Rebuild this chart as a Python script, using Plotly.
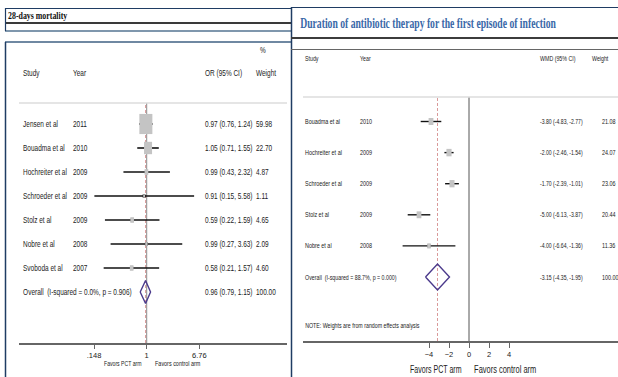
import json
import plotly.graph_objects as go

# ---------------- data: 28-day mortality (odds ratios) ----------------
mort_studies = ["Jensen et al", "Bouadma et al", "Hochreiter et al", "Schroeder et al",
                "Stolz et al", "Nobre et al", "Svoboda et al"]
mort_years = ["2011", "2010", "2009", "2009", "2009", "2008", "2007"]
mort_or = [0.97, 1.05, 0.99, 0.91, 0.59, 0.99, 0.58]
mort_lo = [0.76, 0.71, 0.43, 0.15, 0.22, 0.27, 0.21]
mort_hi = [1.24, 1.55, 2.32, 5.58, 1.59, 3.63, 1.57]
mort_weight = [59.98, 22.70, 4.87, 1.11, 4.65, 2.09, 4.60]
mort_overall = [0.96, 0.79, 1.15, 100.00]
mort_het = ["0.0%", "0.906"]
mort_ticks = [0.148, 1, 6.76]
mort_ticktext = [".148", "1", "6.76"]

# ---------------- data: antibiotic duration (WMD, days) ----------------
dur_studies = ["Bouadma et al", "Hochreiter et al", "Schroeder et al", "Stolz et al", "Nobre et al"]
dur_years = ["2010", "2009", "2009", "2009", "2008"]
dur_wmd = [-3.80, -2.00, -1.70, -5.00, -4.00]
dur_lo = [-4.83, -2.46, -2.39, -6.13, -6.64]
dur_hi = [-2.77, -1.54, -1.01, -3.87, -1.36]
dur_weight = [21.08, 24.07, 23.06, 20.44, 11.36]
dur_overall = [-3.15, -4.35, -1.95, 100.00]
dur_het = ["88.7%", "0.000"]
dur_ticks = [-4, -2, 0, 2, 4]

# ---------------- page geometry ----------------
W, H = 618, 377
def px(x):
    return x / W
def py(y):
    return 1 - y / H

SANS = "Liberation Sans, Arial, sans-serif"
SERIF = "Liberation Serif, Times New Roman, serif"
TXT = "#222222"
NAVY = "#1f3c63"
DIAMOND = "#4b3a8c"
SQUARE = "#c4c4c4"
REF_RED = "#d99a9a"

# left forest plot frame (pixels)
L_X0, L_X1, L_ONE, L_DEC = 19, 287, 146.7, 63.5
L_TOP, L_BOT, L_ROW0, L_STEP = 103, 343, 124, 24.0
# right forest plot frame (pixels)
R_X0, R_X1, R_ZERO, R_UNIT = 303, 618, 469, 10.0
R_TOP, R_BOT, R_ROW0, R_STEP = 97, 341, 121.5, 31.1

fig = go.Figure()
shapes = []
ann = []
squeeze = []   # horizontal condensing applied to each annotation (scale, origin)

def text(x, y, s, size, yref="paper", xanchor="left", color=TXT, family=SANS,
         bold=False, scale=0.72):
    ann.append(dict(x=x, y=y, xref="paper", yref=yref, text=("<b>%s</b>" % s) if bold else s,
                    showarrow=False, xanchor=xanchor, yanchor="middle",
                    font=dict(size=size, color=color, family=family)))
    squeeze.append([scale, xanchor])

# ---------- left panel: 28-days mortality ----------
n_m = len(mort_studies)
ci_x, ci_y = [], []
for i in range(n_m):
    ci_x += [mort_lo[i], mort_hi[i], None]
    ci_y += [i, i, None]
for i in range(n_m):
    side = 1.68 * mort_weight[i] ** 0.5
    hw = side / 2 / L_DEC
    hh = 1.55 * side / 2 / L_STEP
    shapes.append(dict(type="rect", xref="x", yref="y", layer="above",
                       x0=mort_or[i] / 10 ** hw, x1=mort_or[i] * 10 ** hw,
                       y0=i - hh, y1=i + hh, fillcolor=SQUARE, line=dict(width=0)))
fig.add_trace(go.Scatter(x=ci_x, y=ci_y, mode="lines", line=dict(color="#111", width=1.6),
                         xaxis="x", yaxis="y", hoverinfo="skip", showlegend=False))
fig.add_trace(go.Scatter(x=mort_or, y=list(range(n_m)), mode="markers",
                         marker=dict(symbol="square", size=3, color="#111"),
                         xaxis="x", yaxis="y", showlegend=False))
est, lo, hi, _ = mort_overall
h = 0.48
fig.add_trace(go.Scatter(x=[lo, est, hi, est, lo], y=[n_m, n_m - h, n_m, n_m + h, n_m],
                         mode="lines", line=dict(color=DIAMOND, width=1.4),
                         xaxis="x", yaxis="y", showlegend=False))
shapes.append(dict(type="line", xref="x", yref="y domain", x0=1, x1=1, y0=0, y1=1,
                   line=dict(color="#8a8a8a", width=1), layer="below"))
shapes.append(dict(type="line", xref="x", yref="y domain", x0=est, x1=est, y0=0, y1=1,
                   line=dict(color=REF_RED, width=1, dash="3px,2px"), layer="below"))
shapes.append(dict(type="line", xref="x domain", yref="y domain", x0=0, x1=1, y0=1, y1=1,
                   line=dict(color="#dcdcdc", width=1.5)))

for i in range(n_m):
    text(px(21), i, mort_studies[i], 9, yref="y")
    text(px(71), i, mort_years[i], 9, yref="y")
    text(px(203), i, "%.2f (%.2f, %.2f)" % (mort_or[i], mort_lo[i], mort_hi[i]), 9, yref="y")
    text(px(254), i, "%.2f" % mort_weight[i], 9, yref="y")
text(px(21), n_m, "Overall&nbsp;&nbsp;(I-squared = %s, p = %s)" % tuple(mort_het), 9, yref="y")
text(px(203), n_m, "%.2f (%.2f, %.2f)" % tuple(mort_overall[:3]), 9, yref="y")
text(px(254), n_m, "%.2f" % mort_overall[3], 9, yref="y")
text(px(258), py(50), "%", 9)
for x, s in [(21, "Study"), (71, "Year"), (203, "OR (95% CI)"), (254, "Weight")]:
    text(px(x), py(73), s, 9)
text(px(102), py(363), "Favors PCT arm", 8, scale=0.64)
text(px(153), py(363), "Favors control arm", 8, scale=0.68)

# ---------- right panel: duration of antibiotic therapy ----------
n_d = len(dur_studies)
ci_x, ci_y = [], []
for i in range(n_d):
    ci_x += [dur_lo[i], dur_hi[i], None]
    ci_y += [i, i, None]
for i in range(n_d):
    side = 1.05 * dur_weight[i] ** 0.5
    hw = side / 2 / R_UNIT
    hh = 1.45 * side / 2 / R_STEP
    shapes.append(dict(type="rect", xref="x2", yref="y2", layer="above",
                       x0=dur_wmd[i] - hw, x1=dur_wmd[i] + hw,
                       y0=i - hh, y1=i + hh, fillcolor=SQUARE, line=dict(width=0)))
fig.add_trace(go.Scatter(x=ci_x, y=ci_y, mode="lines", line=dict(color="#111", width=1.4),
                         xaxis="x2", yaxis="y2", hoverinfo="skip", showlegend=False))
fig.add_trace(go.Scatter(x=dur_wmd, y=list(range(n_d)), mode="markers",
                         marker=dict(symbol="square", size=3, color="#111"),
                         xaxis="x2", yaxis="y2", showlegend=False))
est, lo, hi, _ = dur_overall
h = 0.42
fig.add_trace(go.Scatter(x=[lo, est, hi, est, lo], y=[n_d, n_d - h, n_d, n_d + h, n_d],
                         mode="lines", line=dict(color=DIAMOND, width=1.4),
                         xaxis="x2", yaxis="y2", showlegend=False))
shapes.append(dict(type="line", xref="x2", yref="y2 domain", x0=0, x1=0, y0=0, y1=1,
                   line=dict(color="#555", width=1), layer="below"))
shapes.append(dict(type="line", xref="x2", yref="y2 domain", x0=est, x1=est, y0=0, y1=1,
                   line=dict(color=REF_RED, width=1, dash="3px,2px"), layer="below"))
shapes.append(dict(type="line", xref="x2 domain", yref="y2 domain", x0=0, x1=1, y0=1, y1=1,
                   line=dict(color="#dcdcdc", width=1.5)))

for i in range(n_d):
    text(px(303), i, dur_studies[i], 8, yref="y2", scale=0.68)
    text(px(358), i, dur_years[i], 8, yref="y2", scale=0.68)
    text(px(538), i, "%.2f (%.2f, %.2f)" % (dur_wmd[i], dur_lo[i], dur_hi[i]), 8, yref="y2",
         scale=0.64)
    text(px(600), i, "%.2f" % dur_weight[i], 8, yref="y2", scale=0.68)
text(px(303), n_d, "Overall&nbsp;&nbsp;(I-squared = %s, p = %s)" % tuple(dur_het), 8,
     yref="y2", scale=0.66)
text(px(538), n_d, "%.2f (%.2f, %.2f)" % tuple(dur_overall[:3]), 8, yref="y2", scale=0.64)
text(px(600), n_d, "%.2f" % dur_overall[3], 8, yref="y2", scale=0.68)
text(px(303), py(325), "NOTE: Weights are from random effects analysis", 8, scale=0.66)
for x, s in [(303, "Study"), (358, "Year"), (538, "WMD (95% CI)"), (590, "Weight")]:
    text(px(x), py(58), s, 8, scale=0.66)
text(px(408), py(369), "Favors PCT arm", 11, scale=0.64)
text(px(472), py(369), "Favors control arm", 11, scale=0.68)

# ---------- panel frames and titles ----------
def hline(x0, x1, y, color, width):
    shapes.append(dict(type="line", xref="paper", yref="paper", x0=px(x0), x1=px(x1),
                       y0=py(y), y1=py(y), line=dict(color=color, width=width)))
def vline(x, y0, y1, color, width):
    shapes.append(dict(type="line", xref="paper", yref="paper", x0=px(x), x1=px(x),
                       y0=py(y0), y1=py(y1), line=dict(color=color, width=width)))

hline(5, 291, 8.5, NAVY, 1.2)
hline(5, 291, 23, "#3a3a3a", 2)
hline(5, 291, 31, "#7f97ad", 2)
vline(5.5, 8, 31, NAVY, 1.2)
hline(5, 291, 42, "#6f88a2", 2)
vline(5.5, 42, 377, NAVY, 1.5)
vline(291.5, 7, 377, NAVY, 1.5)
hline(291, 618, 7.5, NAVY, 1.2)
hline(291, 618, 38, "#3c3c3c", 2)
hline(291, 618, 49.5, "#666666", 1)

text(px(6), py(16), "28-days mortality", 10.5, family=SERIF, bold=True, color="#111", scale=0.75)
text(px(298), py(23.5), "Duration of antibiotic therapy for the first episode of infection", 15,
     family=SERIF, bold=True, color="#3a68a8", scale=0.645)

axis_common = dict(showgrid=False, zeroline=False, showline=True, linecolor="#666",
                   linewidth=1.5, ticks="outside", tickcolor="#666", tickwidth=1,
                   tickfont=dict(size=7.5, family=SANS, color=TXT))
fig.update_layout(
    width=W, height=H, margin=dict(l=0, r=0, t=0, b=0),
    paper_bgcolor="white", plot_bgcolor="rgba(0,0,0,0)", showlegend=False,
    xaxis=dict(axis_common, type="log", domain=[px(L_X0), px(L_X1)],
               range=[(L_X0 - L_ONE) / L_DEC, (L_X1 - L_ONE) / L_DEC],
               tickvals=mort_ticks, ticktext=mort_ticktext, ticklen=4, anchor="y"),
    yaxis=dict(visible=False, domain=[py(L_BOT), py(L_TOP)],
               range=[(L_BOT - L_ROW0) / L_STEP, (L_TOP - L_ROW0) / L_STEP], anchor="x"),
    xaxis2=dict(axis_common, domain=[px(R_X0), px(R_X1)],
                range=[(R_X0 - R_ZERO) / R_UNIT, (R_X1 - R_ZERO) / R_UNIT],
                tickvals=dur_ticks, ticklen=5, anchor="y2"),
    yaxis2=dict(visible=False, domain=[py(R_BOT), py(R_TOP)],
                range=[(R_BOT - R_ROW0) / R_STEP, (R_TOP - R_ROW0) / R_STEP], anchor="x2"),
    shapes=shapes, annotations=ann,
)

# condensed lettering for the annotation labels (narrow typeface look)
condense_js = """
var gd = document.getElementById('{plot_id}');
var cfg = %s;
gd.querySelectorAll('g.annotation').forEach(function (g, k) {
  var idx = g.getAttribute('data-index');
  var i = idx === null ? k : parseInt(idx, 10);
  var t = g.querySelector('text.annotation-text');
  if (t && cfg[i]) {
    t.style.transformBox = 'fill-box';
    t.style.transformOrigin = cfg[i][1] + ' center';
    t.style.transform = 'scaleX(' + cfg[i][0] + ')';
  }
});
""" % json.dumps(squeeze)

fig.write_html("out.html", post_script=condense_js)
